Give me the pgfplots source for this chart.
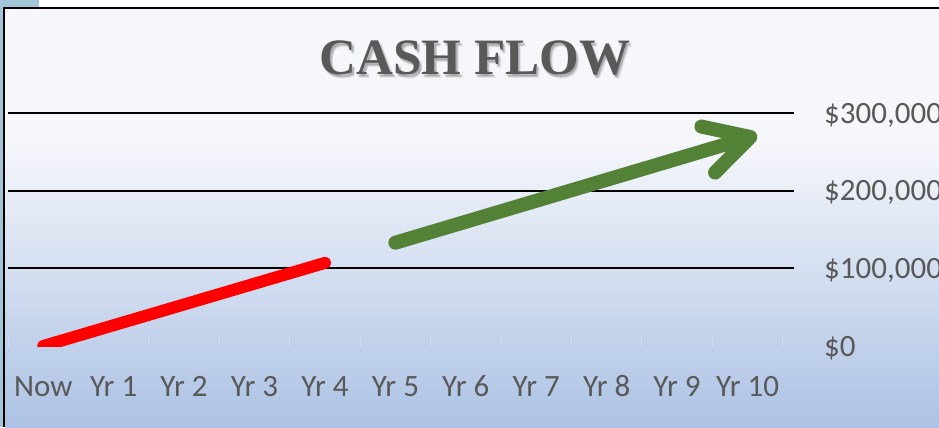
\documentclass[border=0pt]{standalone}
\usepackage{fontspec}
\setmainfont{Carlito}
\newfontfamily\titlefont{Liberation Serif}
\usepackage{pgfplots}
\pgfplotsset{compat=1.18}
\usetikzlibrary{arrows.meta}
\definecolor{labgray}{HTML}{595959}
\definecolor{leftblue}{HTML}{A3C5D8}
\definecolor{bgtop}{HTML}{F6F7FB}
\definecolor{bgbot}{HTML}{ACC2E4}
\definecolor{arrgreen}{HTML}{538135}
\definecolor{arrred}{HTML}{FF0000}
\begin{document}
\begin{tikzpicture}[x=1bp,y=1bp]
\useasboundingbox (0,0) rectangle (939,427);
\clip (0,0) rectangle (939,427);
\fill[white] (0,0) rectangle (939,427);
\fill[leftblue] (0,0) rectangle (3,427);
\fill[leftblue] (0,419) rectangle (39,427);
\fill[bgtop] (5,287) rectangle (939,418);
\shade[top color=bgtop, bottom color=bgbot] (5,0) rectangle (939,287.5);
\draw[black, line width=2bp] (4,0) -- (4,419) -- (939,419);
% title with soft shadow
\foreach \dx/\dy in {1/-2,2/-3,3/-4,1.5/-3.5,2.5/-2.5}{
  \node[anchor=base, inner sep=0pt, text=black, opacity=0.07] at (475+\dx,353+\dy) {\titlefont\bfseries\fontsize{51bp}{60bp}\selectfont CASH FLOW};
}
\node[anchor=base, inner sep=0pt, text=labgray] at (475,353) {\titlefont\bfseries\fontsize{51bp}{60bp}\selectfont CASH FLOW};
\begin{axis}[
  at={(8bp,81bp)}, anchor=south west,
  scale only axis, width=786bp, height=233bp,
  xmin=-0.5, xmax=10.66, ymin=0, ymax=300000,
  axis line style={draw=none},
  xtick={0,1,2,3,4,5,6,7,8,9,10},
  xticklabels={Now,Yr 1,Yr 2,Yr 3,Yr 4,Yr 5,Yr 6,Yr 7,Yr 8,Yr 9,Yr 10},
  minor xtick={-0.5,0.5,1.5,2.5,3.5,4.5,5.5,6.5,7.5,8.5,9.5,10.5},
  xtick pos=bottom, tick align=inside,
  major tick length=0pt, minor tick length=10bp,
  minor tick style={white, opacity=0.25, line width=1bp},
  xticklabel style={anchor=base, yshift=-50bp, inner sep=0pt, text=labgray, font=\fontsize{31bp}{37bp}\selectfont},
  ytick={0,100000,200000,300000},
  yticklabels={{\$0},{\$100,000},{\$200,000},{\$300,000}},
  scaled y ticks=false,
  ytick pos=right, yticklabel pos=right,
  yticklabel style={anchor=base west, xshift=30bp, yshift=-10bp, inner sep=0pt, text=labgray, font=\fontsize{31bp}{37bp}\selectfont},
  extra y ticks={100000,200000,300000},
  extra y tick labels={},
  extra y tick style={grid=major, major grid style={black, line width=2bp}},
  clip=true,
]
\addplot[arrred, line width=12bp, line cap=round] coordinates {(0,0) (4,107000)};
\addplot[arrgreen, line width=14bp, line cap=round, shorten >=-10bp, -{Straight Barb[length=44bp, width=48bp, round]}] coordinates {(5,133000) (10,268000)};
\end{axis}
\end{tikzpicture}
\end{document}
